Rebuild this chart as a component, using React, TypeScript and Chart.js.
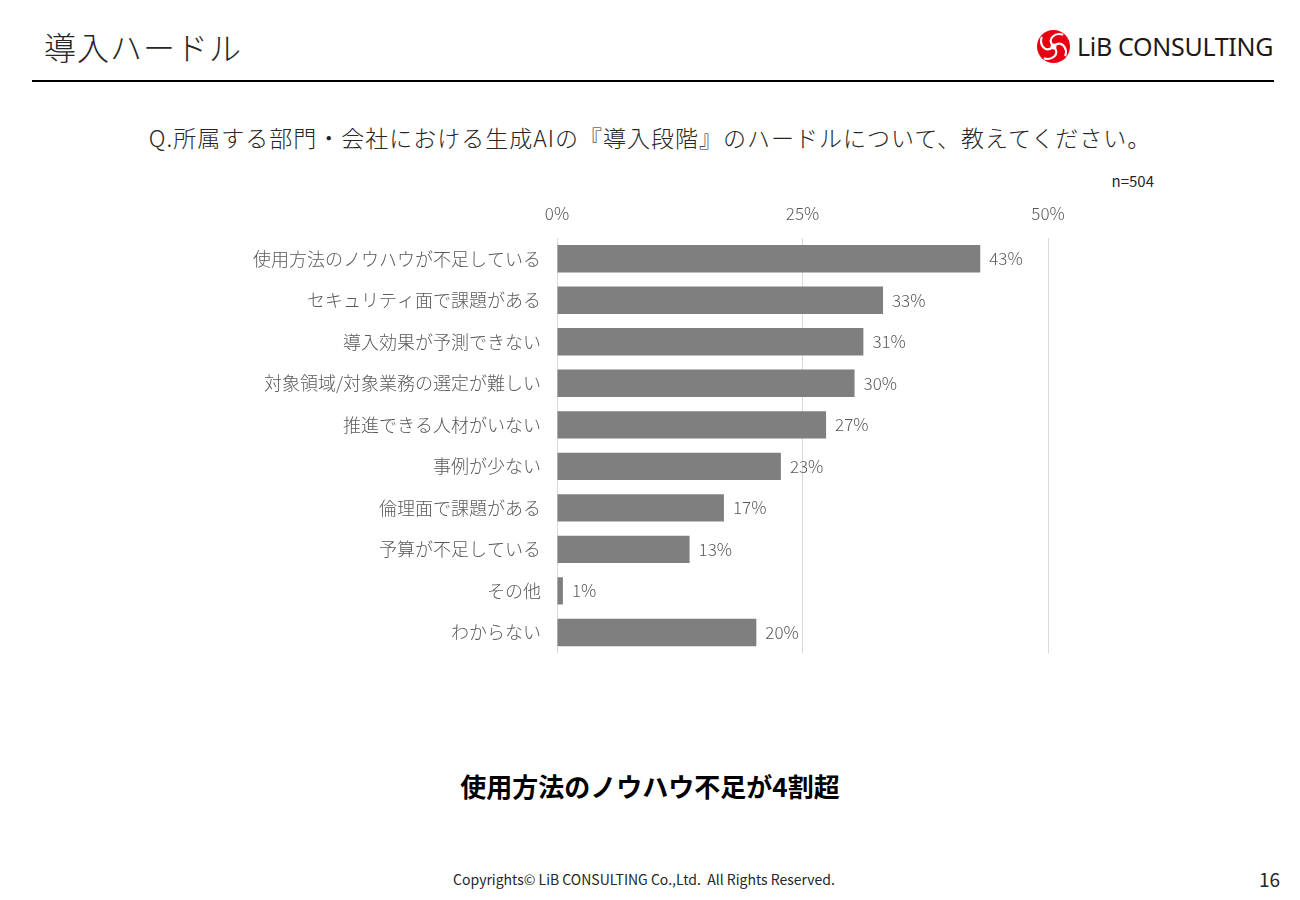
import React, { useEffect, useRef } from "react";
import { Chart, registerables } from "chart.js";

Chart.register(...registerables);

const categories = [
  "使用方法のノウハウが不足している",
  "セキュリティ面で課題がある",
  "導入効果が予測できない",
  "対象領域/対象業務の選定が難しい",
  "推進できる人材がいない",
  "事例が少ない",
  "倫理面で課題がある",
  "予算が不足している",
  "その他",
  "わからない",
];
const values = [43.1, 33.2, 31.2, 30.3, 27.4, 22.8, 17.0, 13.5, 0.6, 20.3];
const valueLabels = ["43%", "33%", "31%", "30%", "27%", "23%", "17%", "13%", "1%", "20%"];
const tickValues = [0, 25, 50];

const FONT = "'Noto Sans CJK JP', 'Noto Sans', sans-serif";

const labelPlugin = {
  id: "valueLabels",
  afterDatasetsDraw(chart: any) {
    const ctx = chart.ctx;
    const meta = chart.getDatasetMeta(0);
    ctx.save();
    ctx.font = `300 17px ${FONT}`;
    ctx.fillStyle = "#595959";
    ctx.textAlign = "left";
    ctx.textBaseline = "middle";
    meta.data.forEach((bar: any, i: number) => {
      ctx.fillText(valueLabels[i], bar.x + 9, bar.y);
    });
    ctx.restore();
  },
};

function Logo() {
  return (
    <div style={{ position: "absolute", left: 1036, top: 29, display: "flex", alignItems: "center" }}>
      <svg width="35" height="35" viewBox="0 0 36 36">
        <circle cx="18" cy="18" r="17" fill="#e60012" />
        <path d="M18 18 C 10 10, 20 3, 28 6" stroke="#fff" strokeWidth="2.2" fill="none" />
        <path d="M18 18 C 26 10, 33 20, 30 28" stroke="#fff" strokeWidth="2.2" fill="none" />
        <path d="M18 18 C 26 26, 16 33, 8 30" stroke="#fff" strokeWidth="2.2" fill="none" />
        <path d="M18 18 C 10 26, 3 16, 6 8" stroke="#fff" strokeWidth="2.2" fill="none" />
        <circle cx="18" cy="18" r="3" fill="#fff" />
      </svg>
      <span
        style={{
          marginLeft: 6,
          fontFamily: "'Noto Sans', 'Open Sans', sans-serif",
          fontSize: 25,
          fontWeight: 400,
          color: "#231815",
          letterSpacing: -0.3,
          lineHeight: "35px",
        }}
      >
        LiB CONSULTING
      </span>
    </div>
  );
}

export default function App() {
  const ref = useRef<HTMLCanvasElement | null>(null);

  useEffect(() => {
    if (!ref.current) return;
    const chart = new Chart(ref.current, {
      type: "bar",
      data: {
        labels: categories,
        datasets: [
          {
            data: values,
            backgroundColor: "#7f7f7f",
            borderWidth: 0,
            barPercentage: 0.66,
            categoryPercentage: 1,
          },
        ],
      },
      options: {
        indexAxis: "y",
        animation: false,
        responsive: false,
        maintainAspectRatio: false,
        layout: { padding: { top: 0, right: 52, bottom: 8, left: 0 } },
        plugins: { legend: { display: false }, tooltip: { enabled: false } },
        scales: {
          x: {
            position: "top",
            min: 0,
            max: 50,
            afterBuildTicks(scale: any) {
              scale.ticks = tickValues.map((v) => ({ value: v }));
            },
            afterFit(scale: any) {
              scale.height = 48;
            },
            ticks: {
              padding: 14,
              color: "#595959",
              font: { family: FONT, size: 17, weight: 300 as any },
              callback: (v: any) => `${v}%`,
              maxRotation: 0,
            },
            grid: { color: "#d9d9d9", lineWidth: 1, drawTicks: false },
            border: { display: false },
          },
          y: {
            afterFit(scale: any) {
              scale.width = 357;
            },
            ticks: {
              padding: 16,
              color: "#595959",
              font: { family: FONT, size: 18, weight: 300 as any },
            },
            grid: { display: false, drawTicks: false },
            border: { display: false },
          },
        },
      },
      plugins: [labelPlugin],
    });
    return () => chart.destroy();
  }, []);

  return (
    <div
      style={{
        position: "absolute",
        left: 0,
        top: 0,
        width: 1300,
        height: 900,
        background: "#fff",
        fontFamily: FONT,
        overflow: "hidden",
      }}
    >
      <div
        style={{
          position: "absolute",
          left: 44,
          top: 24,
          fontSize: 32,
          fontWeight: 300,
          color: "#262626",
          lineHeight: "44px",
          letterSpacing: 1,
        }}
      >
        導入ハードル
      </div>
      <Logo />
      <div style={{ position: "absolute", left: 32, top: 80, width: 1242, height: 2, background: "#000" }} />
      <div
        style={{
          position: "absolute",
          left: 0,
          width: 1300,
          top: 120,
          textAlign: "center",
          fontSize: 23,
          fontWeight: 300,
          color: "#262626",
          lineHeight: "34px",
          letterSpacing: 1,
        }}
      >
        Q.所属する部門・会社における生成AIの『導入段階』のハードルについて、教えてください。
      </div>
      <div
        style={{
          position: "absolute",
          right: 146,
          top: 171,
          fontSize: 15,
          color: "#262626",
          lineHeight: "20px",
        }}
      >
        n=504
      </div>
      <canvas
        ref={ref}
        width={900}
        height={490}
        style={{ position: "absolute", left: 200, top: 190, width: 900, height: 490 }}
      />
      <div
        style={{
          position: "absolute",
          left: 0,
          width: 1300,
          top: 767,
          textAlign: "center",
          fontSize: 26,
          fontWeight: 700,
          color: "#000",
          lineHeight: "38px",
        }}
      >
        使用方法のノウハウ不足が4割超
      </div>
      <div
        style={{
          position: "absolute",
          left: 0,
          width: 1288,
          top: 869,
          textAlign: "center",
          fontSize: 14,
          color: "#262626",
          lineHeight: "20px",
          whiteSpace: "pre",
        }}
      >
        {"Copyrights© LiB CONSULTING Co.,Ltd.  All Rights Reserved."}
      </div>
      <div
        style={{
          position: "absolute",
          right: 20,
          top: 866,
          fontSize: 19,
          color: "#262626",
          lineHeight: "26px",
        }}
      >
        16
      </div>
    </div>
  );
}
